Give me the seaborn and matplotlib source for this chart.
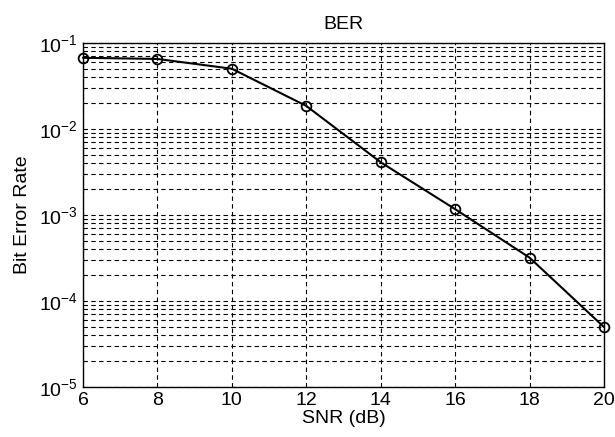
import matplotlib
matplotlib.use("Agg")
import matplotlib.pyplot as plt
import seaborn as sns
import pandas as pd
from matplotlib.ticker import LogLocator, FixedLocator, NullFormatter

snr_db = [6, 8, 10, 12, 14, 16, 18, 20]
ber = [0.067, 0.065, 0.050, 0.0185, 0.0041, 0.00117, 0.00032, 0.00005]
x_ticks = [6, 8, 10, 12, 14, 16, 18, 20]

sns.set_style("white")
plt.rcParams["font.family"] = ["Liberation Sans", "DejaVu Sans"]
plt.rcParams["text.color"] = "black"
plt.rcParams["axes.labelcolor"] = "black"

df = pd.DataFrame({"snr": snr_db, "ber": ber})

fig = plt.figure(figsize=(6.15, 4.37), dpi=100)
ax = fig.add_axes([0.135, 0.114, 0.847, 0.788])

sns.lineplot(data=df, x="snr", y="ber", ax=ax, color="black", linewidth=1.5,
             marker="o", markersize=7, markerfacecolor="none",
             markeredgecolor="black", markeredgewidth=1.3, clip_on=False, zorder=5)

ax.set_yscale("log")
ax.set_xlim(6, 20)
ax.set_ylim(1e-5, 1e-1)
ax.xaxis.set_major_locator(FixedLocator(x_ticks))
ax.yaxis.set_major_locator(LogLocator(base=10, numticks=10))
ax.yaxis.set_minor_locator(LogLocator(base=10, subs=range(2, 10), numticks=50))
ax.yaxis.set_minor_formatter(NullFormatter())

ax.grid(True, which="major", axis="both", color="black", linestyle=(0, (4, 3)), linewidth=0.8)
ax.grid(True, which="minor", axis="y", color="black", linestyle=(0, (4, 3)), linewidth=0.8)

ax.tick_params(axis="both", which="both", direction="in", labelsize=14, colors="black")
ax.tick_params(axis="both", which="major", length=5)
ax.tick_params(axis="y", which="minor", length=3)
for s in ax.spines.values():
    s.set_color("black")
    s.set_linewidth(1.0)

ax.set_title("BER", fontsize=14, pad=10, color="black")
ax.set_xlabel("SNR (dB)", fontsize=14, labelpad=1, color="black")
ax.set_ylabel("Bit Error Rate", fontsize=14, labelpad=6, color="black")

fig.savefig("out.png", dpi=100)
